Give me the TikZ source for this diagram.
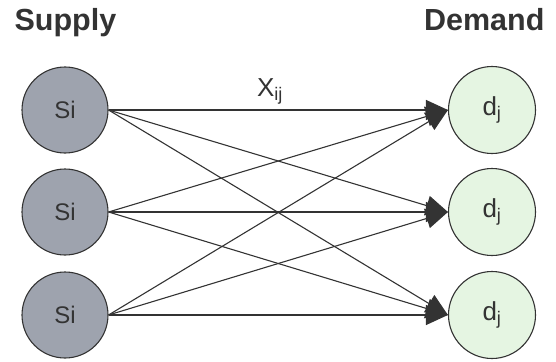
\documentclass[tikz,border=0pt]{standalone}
\usepackage{fontspec}
\setmainfont{Liberation Sans}
\usetikzlibrary{arrows.meta}
\definecolor{ink}{HTML}{333333}
\definecolor{supplyfill}{HTML}{9EA3AE}
\definecolor{demandfill}{HTML}{E5F5E2}
\tikzset{
  supplynode/.style={circle, draw=ink, line width=1.1pt, fill=supplyfill,
    minimum size=86pt, inner sep=0pt, font=\fontsize{24}{26}\selectfont, text=ink},
  demandnode/.style={circle, draw=ink, line width=1.1pt, fill=demandfill,
    minimum size=87pt, inner sep=0pt, font=\fontsize{26}{28}\selectfont, text=ink},
  heading/.style={font=\bfseries\fontsize{30.5}{32}\selectfont, text=ink},
  flow/.style={draw=ink, line width=1.1pt,
    -{Triangle[length=22pt,width=20pt]}},
}
\begin{document}
\begin{tikzpicture}[x=1pt,y=-1pt]
  \useasboundingbox (0,0) rectangle (556,361);
  % column headings
  \node[heading, anchor=base west] (hs) at (11,31) {Supply};
  \node[heading, anchor=base east] (hd) at (548,31) {Demand};
  % supply nodes
  \node[supplynode] (s1) at (65,110) {Si};
  \node[supplynode] (s2) at (65,212) {Si};
  \node[supplynode] (s3) at (65,315) {Si};
  % demand nodes
  \node[demandnode] (d1) at (492,110) {d\textsubscript{j}};
  \node[demandnode] (d2) at (492,212) {d\textsubscript{j}};
  \node[demandnode] (d3) at (492,315) {d\textsubscript{j}};
  % flows from every supply to every demand
  \foreach \i in {1,2,3}{
    \foreach \j in {1,2,3}{
      \draw[flow] (s\i.east) -- (d\j.west);
    }
  }
  % flow label
  \node[font=\fontsize{26}{28}\selectfont, text=ink, anchor=base] (xl) at (270,96)
    {X\textsubscript{ij}};
\end{tikzpicture}
\end{document}
